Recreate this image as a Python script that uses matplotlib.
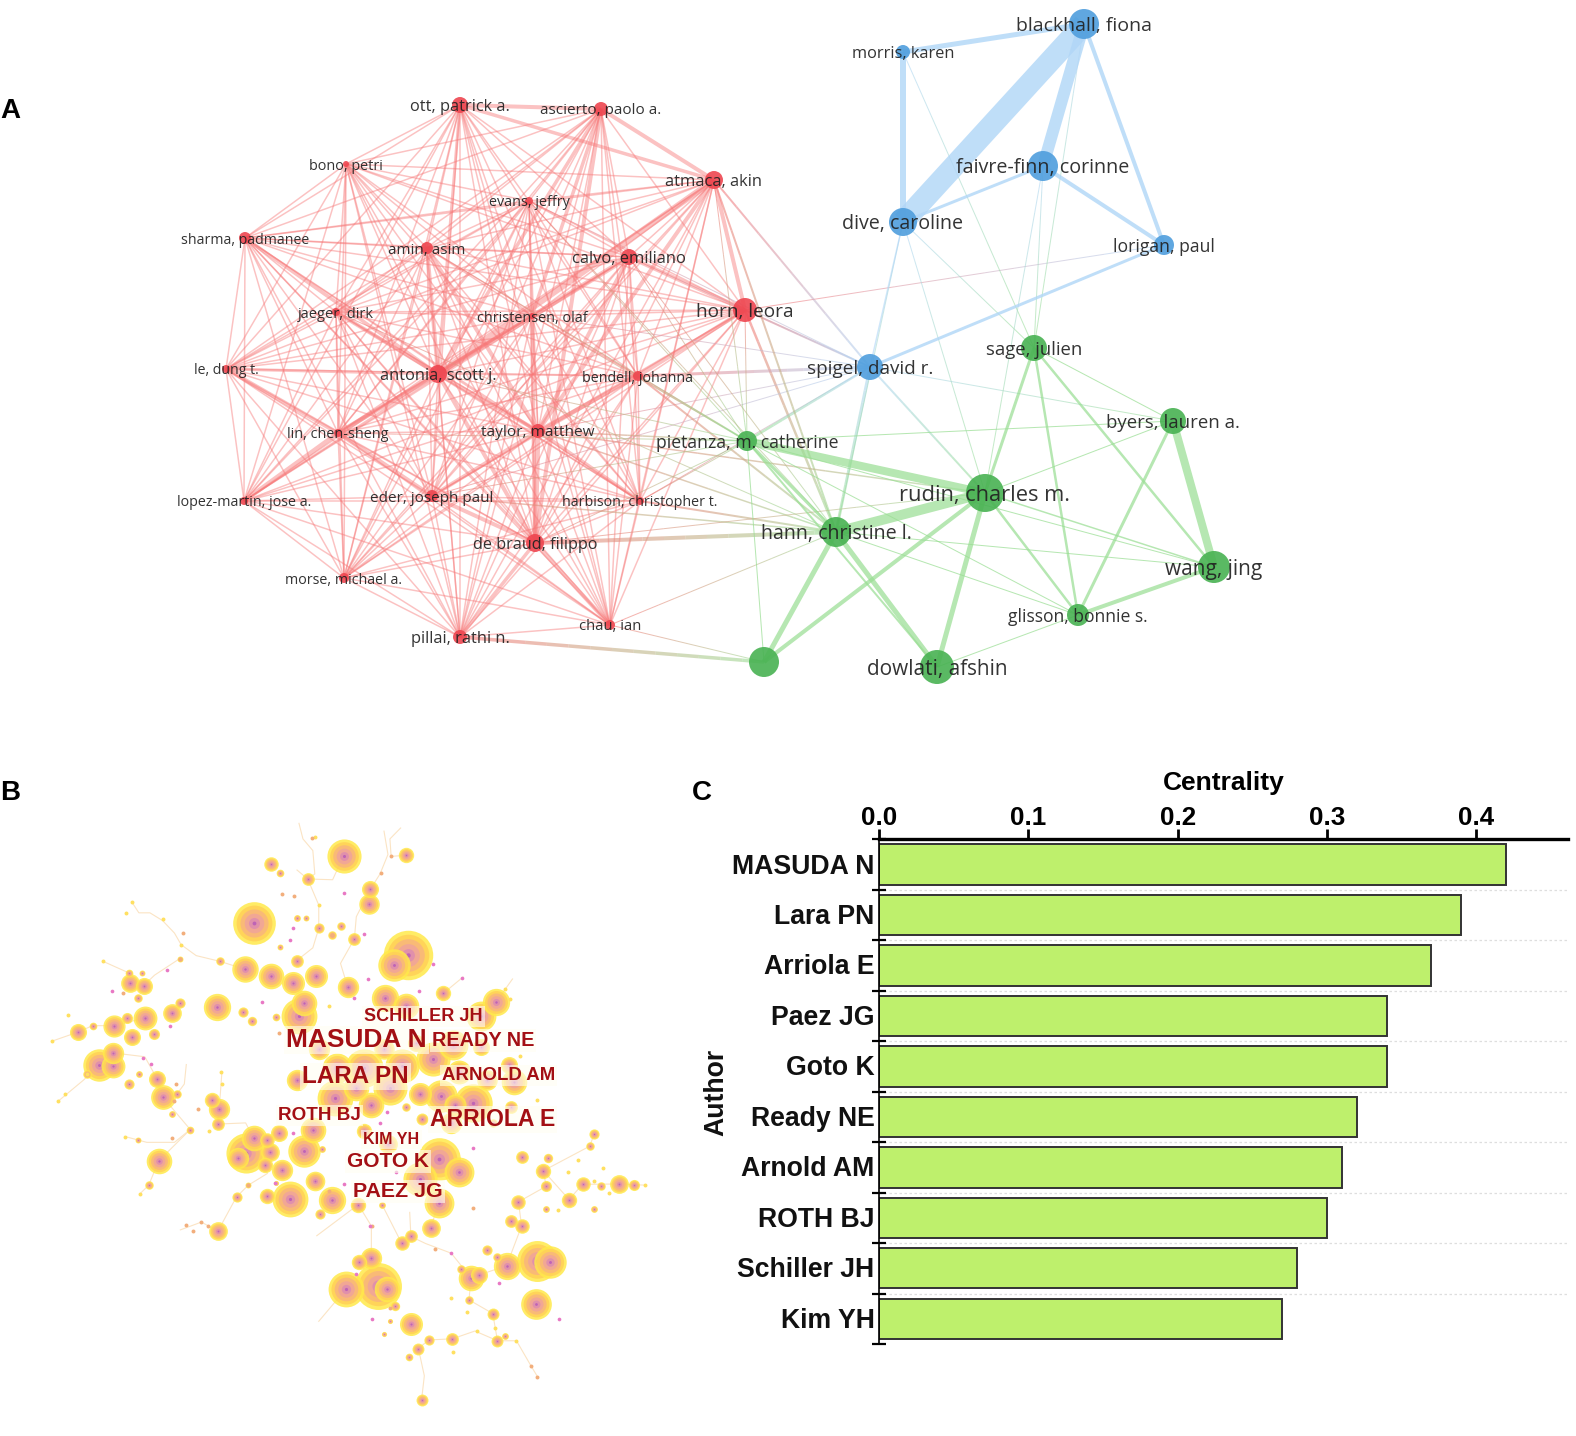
import itertools
import numpy as np
import matplotlib
matplotlib.use("Agg")
import matplotlib.pyplot as plt
from matplotlib.collections import LineCollection
from matplotlib.colors import to_rgb

# --- panel A, co-authorship network (positions, px) ---
red_authors = ["ott, patrick a.", "ascierto, paolo a.", "atmaca, akin", "bono, petri", "evans, jeffry",
               "sharma, padmanee", "amin, asim", "calvo, emiliano", "jaeger, dirk", "christensen, olaf",
               "horn, leora", "le, dung t.", "antonia, scott j.", "bendell, johanna", "lin, chen-sheng",
               "taylor, matthew", "lopez-martin, jose a.", "eder, joseph paul", "harbison, christopher t.",
               "de braud, filippo", "morse, michael a.", "pillai, rathi n.", "chau, ian"]
red_x = [460, 601, 714, 346, 529, 245, 427, 629, 336, 532, 745, 226, 438, 638, 338, 538, 244, 432, 640, 535, 344, 460, 610]
red_y = [105, 109, 180, 164, 201, 238, 248, 257, 312, 316, 310, 369, 374, 376, 433, 431, 501, 496, 501, 543, 578, 637, 625]
red_r = [8, 7, 9, 3, 4, 6, 6, 8, 4, 3, 12, 4, 9, 5, 4, 7, 4, 6, 4, 9, 5, 7, 5]
red_label_w = [100, 121, 98, 74, 81, 128, 78, 114, 76, 110, 97, 65, 117, 111, 101, 113, 134, 123, 156, 125, 117, 99, 63]

green_authors = ["sage, julien", "byers, lauren a.", "rudin, charles m.", "hann, christine l.", "wang, jing",
                 "glisson, bonnie s.", "dowlati, afshin", "", "pietanza, m. catherine"]
green_x = [1034, 1173, 985, 836, 1214, 1078, 937, 764, 747]
green_y = [348, 421, 493, 532, 567, 615, 667, 662, 441]
green_r = [13, 13, 19, 15, 16, 11, 17, 15, 10]
green_label_w = [97, 134, 171, 151, 98, 140, 141, 0, 183]

blue_authors = ["blackhall, fiona", "morris, karen", "faivre-finn, corinne", "dive, caroline", "lorigan, paul", "spigel, david r."]
blue_x = [1084, 903, 1043, 903, 1164, 870]
blue_y = [24, 52, 166, 222, 245, 367]
blue_r = [15, 7, 15, 14, 10, 13]
blue_label_w = [136, 102, 174, 121, 102, 126]

red_strong = [("antonia", "atmaca", 6), ("antonia", "calvo", 5), ("lopez-martin", "lin", 4.5), ("lin", "antonia", 4.5),
              ("ott", "ascierto", 4), ("ascierto", "atmaca", 4), ("atmaca", "horn", 4), ("ott", "atmaca", 3.5),
              ("bendell", "horn", 4), ("calvo", "horn", 4), ("antonia", "taylor", 4), ("taylor", "harbison", 3.5),
              ("eder", "taylor", 4), ("eder", "de braud", 4), ("de braud", "chau", 4), ("de braud", "pillai", 3.5),
              ("jaeger", "antonia", 4), ("sharma", "antonia", 3.5), ("le", "lin", 4), ("lin", "eder", 4),
              ("amin", "taylor", 4), ("amin", "antonia", 4), ("atmaca", "taylor", 4), ("taylor", "bendell", 4),
              ("de braud", "taylor", 5), ("de braud", "ascierto", 4), ("antonia", "de braud", 4),
              ("christensen", "de braud", 4), ("calvo", "taylor", 4), ("ascierto", "antonia", 3.5),
              ("ascierto", "christensen", 3.5), ("ott", "antonia", 3), ("le", "antonia", 3), ("lin", "christensen", 3)]

green_links = [("hann", "rudin", 10), ("pietanza", "rudin", 8), ("byers", "wang", 8), ("hann", "", 5), ("rudin", "", 4),
               ("hann", "dowlati", 5), ("rudin", "dowlati", 5), ("rudin", "sage", 3), ("glisson", "wang", 4),
               ("byers", "glisson", 3), ("sage", "wang", 2.5), ("sage", "glisson", 2.5), ("rudin", "glisson", 2.5),
               ("rudin", "wang", 1.5), ("hann", "wang", 1), ("hann", "glisson", 1), ("pietanza", "hann", 3),
               ("pietanza", "", 1), ("pietanza", "dowlati", 2), ("pietanza", "wang", 1), ("pietanza", "glisson", 1),
               ("pietanza", "byers", 1), ("sage", "byers", 1), ("rudin", "byers", 1), ("dowlati", "glisson", 1)]

blue_links = [("blackhall", "dive", 22), ("blackhall", "faivre-finn", 12), ("blackhall", "morris", 5), ("morris", "dive", 6),
              ("dive", "faivre-finn", 3), ("faivre-finn", "lorigan", 4), ("blackhall", "lorigan", 4), ("spigel", "lorigan", 3)]

cross_links = [("de braud", "hann", 4), ("pillai", "", 3.5), ("horn", "hann", 2.5), ("horn", "lorigan", 1), ("bendell", "spigel", 3),
               ("horn", "spigel", 2), ("atmaca", "spigel", 2), ("calvo", "spigel", 1), ("taylor", "spigel", 1),
               ("evans", "spigel", 1), ("christensen", "spigel", 1), ("harbison", "spigel", 1), ("eder", "spigel", 1),
               ("pietanza", "spigel", 2.5), ("spigel", "hann", 3), ("spigel", "rudin", 2), ("dive", "spigel", 1.5),
               ("dive", "hann", 1), ("dive", "rudin", 1), ("dive", "sage", 1), ("morris", "sage", 1), ("faivre-finn", "sage", 1),
               ("blackhall", "sage", 1), ("faivre-finn", "rudin", 1), ("spigel", "byers", 1), ("chau", "hann", 1),
               ("chau", "", 1), ("calvo", "hann", 1), ("atmaca", "hann", 2), ("bendell", "hann", 2), ("taylor", "rudin", 1.5),
               ("taylor", "hann", 1.5), ("harbison", "hann", 2), ("harbison", "pietanza", 1), ("bendell", "pietanza", 2),
               ("calvo", "pietanza", 1), ("christensen", "pietanza", 1), ("taylor", "pietanza", 1.5), ("antonia", "pietanza", 1),
               ("atmaca", "pietanza", 1), ("horn", "pietanza", 1), ("eder", "pietanza", 1), ("de braud", "pietanza", 1),
               ("lin", "pietanza", 1), ("amin", "pietanza", 1), ("evans", "pietanza", 1), ("jaeger", "hann", 1),
               ("eder", "hann", 1.5), ("evans", "hann", 1), ("de braud", "rudin", 1)]

# --- panel B, citation network (coordinates in the units of the panel, 0-1568) ---
cite_nodes = [(768, 143, 40), (540, 315, 50), (930, 398, 58), (895, 425, 38), (518, 435, 31), (585, 452, 30), (640, 470, 27),
              (697, 453, 27), (778, 480, 25), (873, 510, 32), (655, 555, 42), (667, 522, 30), (925, 530, 30), (1020, 497, 18),
              (1153, 520, 32), (1115, 555, 35), (447, 532, 32), (835, 230, 20), (832, 267, 24), (925, 142, 18), (583, 165, 17),
              (606, 188, 9), (677, 203, 15), (705, 330, 12), (760, 323, 10), (795, 357, 15), (739, 348, 10), (649, 413, 15),
              (606, 379, 7), (650, 303, 8), (672, 303, 7), (228, 470, 22), (262, 477, 20), (247, 508, 10), (226, 445, 9),
              (258, 445, 7), (353, 521, 12), (334, 548, 22), (266, 560, 28), (220, 561, 13), (187, 580, 26), (133, 580, 9),
              (95, 597, 20), (232, 609, 20), (288, 602, 13), (185, 650, 25), (185, 685, 28), (150, 680, 38), (120, 705, 10),
              (297, 718, 20), (225, 730, 12), (250, 705, 8), (310, 763, 29), (347, 755, 10), (333, 807, 8), (435, 770, 18),
              (453, 795, 25), (450, 833, 15), (380, 847, 9), (300, 928, 30), (247, 873, 7), (275, 990, 10), (513, 545, 12),
              (537, 567, 11), (597, 558, 9), (456, 415, 10), (353, 408, 7), (705, 640, 25), (820, 690, 45), (750, 690, 35),
              (915, 685, 40), (995, 665, 40), (1045, 630, 35), (1115, 635, 20), (650, 720, 25), (745, 765, 42), (838, 785, 30),
              (800, 740, 30), (885, 740, 40), (960, 757, 27), (1015, 760, 38), (1095, 778, 45), (1200, 725, 30), (1185, 680, 20),
              (1190, 790, 15), (1145, 830, 10), (965, 820, 14), (925, 790, 10), (1040, 830, 25), (690, 848, 30), (605, 855, 20),
              (540, 868, 30), (575, 873, 17), (520, 908, 47), (500, 920, 25), (582, 905, 22), (570, 938, 18), (612, 950, 25),
              (668, 903, 38), (1010, 922, 50), (1060, 955, 35), (960, 975, 40), (1008, 1035, 35), (695, 980, 23), (632, 1025, 42),
              (575, 1018, 18), (738, 1027, 32), (527, 990, 7), (597, 985, 6), (497, 1020, 12), (805, 1040, 18), (708, 1065, 12),
              (865, 1040, 8), (450, 1108, 22), (988, 1101, 22), (938, 1122, 15), (915, 1140, 17), (838, 1177, 25), (808, 1187, 18),
              (773, 1258, 42), (855, 1250, 55), (878, 1258, 30), (898, 1300, 11), (938, 1347, 27), (885, 1340, 6), (870, 1372, 6),
              (983, 1388, 12), (957, 1410, 14), (932, 1433, 9), (1043, 1385, 15), (965, 1542, 14), (1145, 1320, 14), (1157, 1390, 14),
              (1175, 1377, 8), (1085, 1285, 10), (1090, 1228, 30), (1110, 1220, 20), (1065, 1205, 10), (1130, 1158, 12),
              (1180, 1197, 32), (1155, 1175, 10), (1290, 1188, 38), (1258, 1185, 48), (1255, 1295, 36), (1218, 1095, 17),
              (1190, 1083, 15), (1210, 1033, 17), (1280, 1052, 8), (1338, 1027, 18), (1400, 1052, 8), (1372, 988, 17), (1420, 992, 10),
              (1465, 987, 22), (1502, 990, 13), (1273, 953, 18), (1280, 993, 13), (1285, 920, 11), (1390, 890, 10), (1402, 858, 12),
              (1218, 918, 15), (712, 897, 8), (870, 640, 24), (950, 625, 20), (1060, 700, 28), (1130, 720, 24), (1050, 785, 26),
              (880, 885, 22), (820, 850, 18)]

cite_links = [[(232, 262), (250, 290), (278, 290), (310, 310), (340, 342), (357, 372), (395, 400), (456, 415), (518, 435)],
              [(655, 60), (665, 100), (690, 130), (695, 190), (677, 203), (740, 205), (768, 143)],
              [(650, 180), (677, 203), (705, 270), (705, 330), (690, 380), (649, 413)],
              [(870, 80), (880, 140), (860, 190), (835, 230), (800, 300), (795, 357), (760, 420), (778, 480)],
              [(912, 72), (885, 100), (888, 145), (925, 142)], [(160, 415), (226, 445)], [(353, 408), (290, 450), (262, 477)],
              [(30, 620), (95, 597), (133, 580), (187, 580), (266, 560)], [(45, 775), (110, 720), (150, 680)],
              [(185, 650), (265, 660), (297, 718), (310, 763), (380, 847), (300, 928)], [(215, 865), (270, 880), (340, 880), (380, 847)],
              [(370, 680), (365, 730), (347, 755)], [(460, 700), (455, 770), (453, 795), (450, 833), (520, 830), (540, 868)],
              [(252, 1013), (275, 990), (300, 928)], [(355, 1105), (408, 1085), (450, 1108), (497, 1020), (527, 990), (575, 960)],
              [(700, 1120), (805, 1040), (838, 1095), (838, 1177)], [(865, 1040), (915, 1140)],
              [(935, 1060), (938, 1122), (975, 1140), (1040, 1165), (1090, 1228)], [(1008, 1035), (988, 1101)], [(705, 1340), (773, 1258)],
              [(965, 1542), (972, 1480), (957, 1410), (983, 1388), (1043, 1385), (1100, 1365), (1157, 1390), (1205, 1390), (1242, 1455), (1258, 1482)],
              [(1090, 1228), (1085, 1285), (1145, 1320), (1157, 1390)], [(1090, 1228), (1180, 1197), (1258, 1185)],
              [(1180, 1197), (1218, 1095), (1210, 1033), (1280, 993), (1273, 953), (1390, 890), (1402, 858)],
              [(1273, 953), (1338, 1027), (1372, 988), (1465, 987), (1530, 990)], [(1195, 460), (1153, 520)], [(1020, 497), (1070, 455)]]

yellow_dots = [(232, 262), (218, 290), (310, 305), (357, 372), (160, 415), (70, 553), (30, 620), (45, 775), (63, 757), (120, 705),
               (460, 730), (458, 700), (215, 865), (252, 1013), (428, 850), (730, 530), (705, 270), (695, 95), (1175, 485), (1188, 512),
               (1215, 658), (1258, 770), (1105, 1365), (1150, 1358), (1205, 1390), (1045, 1420), (1080, 1315), (1040, 1280),
               (1335, 955), (1360, 925), (1440, 1010), (1530, 990), (1425, 945), (1310, 1055), (1400, 980)]
orange_dots = [(612, 242), (643, 248), (739, 348), (887, 145), (862, 187), (688, 98), (362, 342), (210, 495), (353, 408), (400, 795),
               (345, 730), (335, 870), (370, 1092), (408, 1085), (425, 1095), (388, 1108), (605, 600), (1000, 1155), (1242, 1455),
               (1258, 1482), (885, 1305), (840, 1095), (1095, 1050), (730, 1005), (525, 990), (340, 775)]
pink_dots = [(562, 520), (640, 855), (1160, 1242), (1040, 1165), (958, 492), (1068, 458), (1095, 895), (795, 510), (830, 460),
             (820, 345), (770, 240), (640, 330), (632, 360), (260, 662), (280, 678), (182, 492), (320, 438), (330, 580), (860, 830),
             (878, 802), (900, 955), (768, 988), (835, 1095), (1312, 1333), (800, 1218), (840, 1335), (595, 985), (995, 422)]

cite_labels = ["MASUDA N", "LARA PN", "ARRIOLA E", "GOTO K", "PAEZ JG", "READY NE", "ARNOLD AM", "SCHILLER JH", "ROTH BJ", "KIM YH"]
cite_label_x = [800, 798, 1145, 881, 906, 1120, 1159, 970, 707, 889]
cite_label_y = [616, 710, 821, 930, 1006, 618, 708, 556, 810, 872]
cite_label_pt = [18.9, 17.5, 16.6, 15, 15.4, 14.3, 13.4, 13, 13.6, 11.5]

# --- panel C, centrality bars ---
bar_authors = ["MASUDA N", "Lara PN", "Arriola E", "Paez JG", "Goto K", "Ready NE", "Arnold AM", "ROTH BJ", "Schiller JH", "Kim YH"]
centrality = [0.42, 0.39, 0.37, 0.34, 0.34, 0.32, 0.31, 0.30, 0.28, 0.27]

W, H = 1576, 1436
RED, GREEN, BLUE = "#EE4650", "#48B252", "#4F9EDD"
RED_EDGE, GREEN_EDGE, BLUE_EDGE = "#F77878", "#9ADE94", "#B0D6F7"
FONT = "Open Sans"


def px_rect(left, top, right, bottom):
    return [left / W, 1 - bottom / H, (right - left) / W, (bottom - top) / H]


def add_edge(ax, p, q, c1, c2, width_px, alpha):
    # vosviewer blends the colour of the two clusters along a link
    lw = width_px * 0.72
    if c1 == c2:
        ax.plot([p[0], q[0]], [p[1], q[1]], color=c1, lw=lw, alpha=alpha, solid_capstyle="butt", zorder=1)
        return
    t = np.linspace(0, 1, 15)
    xs = p[0] + (q[0] - p[0]) * t
    ys = p[1] + (q[1] - p[1]) * t
    segs = [[(xs[i], ys[i]), (xs[i + 1], ys[i + 1])] for i in range(14)]
    a, b = np.array(to_rgb(c1)), np.array(to_rgb(c2))
    cols = [tuple(a + (b - a) * (i + 0.5) / 14) for i in range(14)]
    ax.add_collection(LineCollection(segs, colors=cols, linewidths=lw, alpha=alpha, capstyle="butt", zorder=1))


def fit_label(ax, x, y, label, width_px):
    t = ax.text(x, y + 2, label, ha="center", va="center", family=FONT, fontsize=10, color="#222222", alpha=0.92, zorder=5)
    box = t.get_window_extent(renderer=fig.canvas.get_renderer())
    t.set_fontsize(10 * width_px / box.width)


fig = plt.figure(figsize=(W / 100, H / 100), dpi=100, facecolor="white")

# --- panel A ---
ax_net = fig.add_axes([0, 0, 1, 1])
ax_net.set_xlim(0, W)
ax_net.set_ylim(H, 0)
ax_net.axis("off")

pos = {}
edge_colour = {}
groups = [(red_authors, red_x, red_y, RED_EDGE), (green_authors, green_x, green_y, GREEN_EDGE), (blue_authors, blue_x, blue_y, BLUE_EDGE)]
for names, xs, ys, ec in groups:
    for name, x, y in zip(names, xs, ys):
        key = name.split(",")[0]
        pos[key] = (x, y)
        edge_colour[key] = ec

red_keys = [n.split(",")[0] for n in red_authors]
strong = {frozenset(e[:2]): e[2] for e in red_strong}
for a, b in itertools.combinations(red_keys, 2):
    w = strong.get(frozenset((a, b)), 1.5)
    add_edge(ax_net, pos[a], pos[b], RED_EDGE, RED_EDGE, w, 0.45)
for a, b, w in cross_links:
    add_edge(ax_net, pos[a], pos[b], edge_colour[a], edge_colour[b], w, 0.6)
for a, b, w in green_links:
    add_edge(ax_net, pos[a], pos[b], GREEN_EDGE, GREEN_EDGE, w, 0.72)
for a, b, w in blue_links:
    add_edge(ax_net, pos[a], pos[b], BLUE_EDGE, BLUE_EDGE, w, 0.8)

for names, xs, ys, rs, widths, col in [(red_authors, red_x, red_y, red_r, red_label_w, RED),
                                       (green_authors, green_x, green_y, green_r, green_label_w, GREEN),
                                       (blue_authors, blue_x, blue_y, blue_r, blue_label_w, BLUE)]:
    ax_net.scatter(xs, ys, s=[(2 * r * 0.72) ** 2 for r in rs], color=col, alpha=0.9, linewidths=0, zorder=3)
    for name, x, y, w in zip(names, xs, ys, widths):
        if name:
            fit_label(ax_net, x, y, name, w)

for letter, x, y in [("A", 10, 111), ("B", 10, 793), ("C", 702, 793)]:
    ax_net.text(x, y, letter, ha="center", va="center", family="Liberation Sans", fontsize=20, fontweight="bold", color="black")

# --- panel B ---
ax_cite = fig.add_axes(px_rect(40, 800, 660, 1410))
ax_cite.set_xlim(0, 1568)
ax_cite.set_ylim(1568, 0)
ax_cite.axis("off")

for link in cite_links:
    lx, ly = zip(*link)
    ax_cite.plot(lx, ly, color="#FBE4C4", lw=0.8, zorder=1)

rings = [(1.0, "#FFE94A"), (0.84, "#FFD058"), (0.66, "#F8B67C"), (0.46, "#F0A49A"), (0.26, "#DE8CB0"), (0.09, "#B85CB8")]
scale = 0.395 * 0.72 * 1.08
for x, y, r in sorted(cite_nodes, key=lambda n: -n[2]):
    for frac, col in rings:
        ax_cite.scatter([x], [y], s=(2 * r * frac * scale) ** 2, color=col, linewidths=0, alpha=0.85, zorder=2)

for dots, col, size in [(yellow_dots, "#FFE060", 8), (orange_dots, "#F2AE7C", 8), (pink_dots, "#E878C4", 7)]:
    dx, dy = zip(*dots)
    ax_cite.scatter(dx, dy, s=size, color=col, linewidths=0, zorder=3)

for label, x, y, pt in zip(cite_labels, cite_label_x, cite_label_y, cite_label_pt):
    ax_cite.text(x, y, label, ha="center", va="center", family="Liberation Sans", fontweight="bold", fontsize=pt, color="#A30F14",
                 zorder=5, bbox=dict(facecolor="#FFFEF2", edgecolor="none", alpha=0.6, pad=1.5))

# --- panel C ---
ax_bar = fig.add_axes(px_rect(879, 839.3, 1568, 1344))
y_pos = np.arange(len(bar_authors))
ax_bar.barh(y_pos, centrality, height=0.8, color="#BEF06C", edgecolor="#333333", linewidth=1.4, zorder=2)
ax_bar.set_xlim(0, (1568 - 879) / 1493)
ax_bar.set_ylim(len(bar_authors) - 0.5, -0.5)

ax_bar.xaxis.tick_top()
ax_bar.xaxis.set_label_position("top")
ax_bar.set_xticks([0, 0.1, 0.2, 0.3, 0.4])
ax_bar.set_xticklabels(["0.0", "0.1", "0.2", "0.3", "0.4"], family="Liberation Sans", fontweight="bold", fontsize=18.7)
ax_bar.tick_params(axis="x", length=7, width=2, pad=0)
ax_bar.set_xlabel("Centrality", family="Liberation Sans", fontweight="bold", fontsize=19)
ax_bar.xaxis.set_label_coords((1224 - 879) / 689, 1 + (839.3 - 783) / 504.7, transform=ax_bar.transAxes)
ax_bar.xaxis.label.set_va("center")

# tick marks sit on the category boundaries, names in between
ax_bar.set_yticks(y_pos - 0.5, minor=False)
ax_bar.set_yticklabels([])
ax_bar.tick_params(axis="y", which="major", direction="inout", length=10, width=1.6)
ax_bar.set_yticks(y_pos + 0.5, minor=True)
ax_bar.tick_params(axis="y", which="minor", direction="inout", length=10, width=1.6)
for name, y in zip(bar_authors, y_pos):
    ax_bar.text(-4.5 / 1493, y + 0.04, name, ha="right", va="center", family="Liberation Sans", fontweight="bold", fontsize=19.2, color="#111111")
ax_bar.text((716 - 879) / 1493, (1092 - 839.3) / 50.47 - 0.5, "Author", rotation=90, ha="center", va="center",
            family="Liberation Sans", fontweight="bold", fontsize=19.2, color="#111111")

for y in y_pos[:-1] + 0.5:
    ax_bar.axhline(y, color="#DEDEDE", lw=0.9, ls=(0, (2, 2)), zorder=1)

for side in ["right", "bottom"]:
    ax_bar.spines[side].set_visible(False)
ax_bar.spines["top"].set_linewidth(2.4)
ax_bar.spines["left"].set_linewidth(1.2)

fig.savefig("out.png", dpi=100, facecolor="white")
